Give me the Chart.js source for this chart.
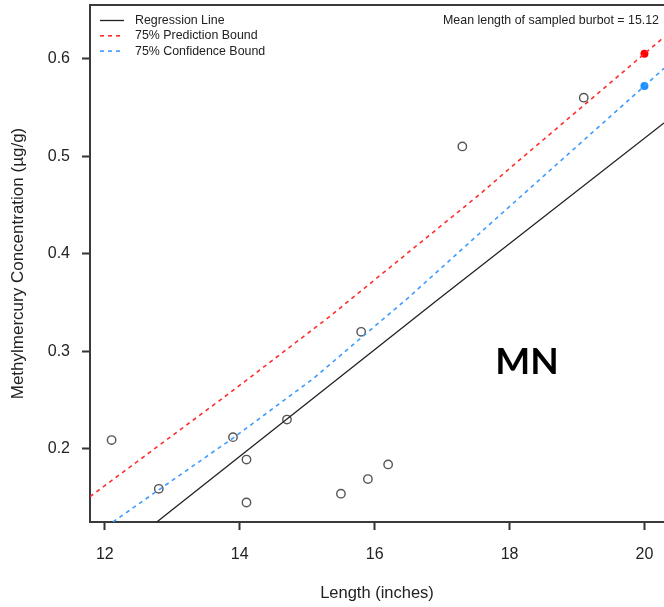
<!DOCTYPE html>
<html>
<head>
<meta charset="utf-8">
<script src="https://cdn.jsdelivr.net/npm/chart.js@4.4.1/dist/chart.umd.min.js"></script>
<style>
    html, body { margin: 0; padding: 0; background: #fff; }
</style>
</head>
<body>
<canvas id="mercuryChart" width="664" height="607"></canvas>
<script>
const FONT = '"Liberation Sans", Arial, sans-serif';

const xTicks = [12, 14, 16, 18, 20];
const yTicks = [0.2, 0.3, 0.4, 0.5, 0.6];

// sampled burbot (open circles)
const fishLength = [12.1, 12.8, 13.9, 14.1, 14.1, 14.7, 15.5, 15.8, 15.9, 16.2, 17.3, 19.1];
const fishMeHg = [0.209, 0.159, 0.212, 0.189, 0.145, 0.230, 0.154, 0.320, 0.169, 0.184, 0.510, 0.560];

// fitted lines
const regLength = [12.77, 16.94, 20.29];
const regMeHg = [0.125, 0.353, 0.534];

const predLength = [11.78, 13.71, 14.15, 15.34, 15.64, 17.56, 18.01, 20, 20.29];
const predMeHg = [0.151, 0.250, 0.273, 0.336, 0.353, 0.461, 0.488, 0.605, 0.622];

const confLength = [12.12, 12.8, 13.9, 15.09, 16.5, 17.67, 20, 20.29];
const confMeHg = [0.125, 0.158, 0.211, 0.272, 0.355, 0.428, 0.572, 0.590];

// bounds at 20 inches (filled dots)
const boundLength = 20;
const predAtLength = 0.605;
const confAtLength = 0.572;

const meanLength = 15.12;

const toPoints = (xs, ys) => xs.map((x, i) => ({ x: x, y: ys[i] }));

// legend, frame top and text labels drawn straight onto the canvas
const overlayPlugin = {
    id: 'overlay',
    beforeDraw(chart) {
        const c = chart.ctx;
        c.save();
        c.fillStyle = '#fff';
        c.fillRect(0, 0, chart.width, chart.height);
        c.restore();
    },
    afterDraw(chart) {
        const c = chart.ctx;
        const area = chart.chartArea;
        c.save();

        // top edge of the box
        c.strokeStyle = '#3a3a3a';
        c.lineWidth = 2;
        c.beginPath();
        c.moveTo(area.left - 1, area.top);
        c.lineTo(area.right, area.top);
        c.stroke();

        // legend
        c.font = '12.4px ' + FONT;
        c.textBaseline = 'middle';
        chart.data.datasets.slice(0, 3).forEach((ds, i) => {
            const y = area.top + 15.5 + i * 15.3;
            c.strokeStyle = ds.borderColor;
            c.lineWidth = ds.borderWidth;
            c.setLineDash(ds.borderDash || []);
            c.beginPath();
            c.moveTo(area.left + 10, y);
            c.lineTo(area.left + 34, y);
            c.stroke();
            c.setLineDash([]);
            c.fillStyle = '#222';
            c.textAlign = 'left';
            c.fillText(ds.label, area.left + 45, y);
        });

        c.textAlign = 'right';
        c.fillText('Mean length of sampled burbot = ' + meanLength.toFixed(2), area.right - 5, area.top + 16);

        // region tag
        const xs = chart.scales.x, ys = chart.scales.y;
        c.font = 'bold 37px Lato, "Open Sans", sans-serif';
        c.textAlign = 'center';
        c.fillStyle = '#000';
        c.fillText('MN', xs.getPixelForValue(18.26), ys.getPixelForValue(0.289));
        c.restore();
    }
};

new Chart(document.getElementById('mercuryChart'), {
    type: 'scatter',
    data: {
        datasets: [
            {
                label: 'Regression Line',
                data: toPoints(regLength, regMeHg),
                showLine: true,
                borderColor: '#222',
                borderWidth: 1.3,
                pointRadius: 0
            },
            {
                label: '75% Prediction Bound',
                data: toPoints(predLength, predMeHg),
                showLine: true,
                borderColor: '#ff2d2d',
                borderDash: [4, 4],
                borderWidth: 1.6,
                pointRadius: 0
            },
            {
                label: '75% Confidence Bound',
                data: toPoints(confLength, confMeHg),
                showLine: true,
                borderColor: '#3b9bff',
                borderDash: [4, 4],
                borderWidth: 1.6,
                pointRadius: 0
            },
            {
                label: 'Burbot',
                data: toPoints(fishLength, fishMeHg),
                pointStyle: 'circle',
                pointRadius: 4.2,
                pointBorderWidth: 1.4,
                pointBorderColor: '#555',
                pointBackgroundColor: 'rgba(0,0,0,0)'
            },
            {
                label: 'Prediction at 20',
                data: [{ x: boundLength, y: predAtLength }],
                pointRadius: 4,
                pointBorderWidth: 0,
                pointBackgroundColor: '#ff0000'
            },
            {
                label: 'Confidence at 20',
                data: [{ x: boundLength, y: confAtLength }],
                pointRadius: 4,
                pointBorderWidth: 0,
                pointBackgroundColor: '#1e90ff'
            }
        ]
    },
    options: {
        responsive: false,
        animation: false,
        devicePixelRatio: 1,
        layout: { autoPadding: false, padding: { top: 5, right: 0, bottom: 0, left: 0 } },
        plugins: {
            legend: { display: false },
            tooltip: { enabled: false }
        },
        scales: {
            x: {
                type: 'linear',
                min: 11.78,
                max: 20.29,
                afterBuildTicks: (s) => { s.ticks = xTicks.map(v => ({ value: v })); },
                afterFit: (s) => { s.height = 85; s.paddingLeft = 0; s.paddingRight = 0; },
                grid: { drawOnChartArea: false, tickLength: 8, tickWidth: 2, tickColor: '#333' },
                border: { display: true, color: '#3a3a3a', width: 2 },
                ticks: {
                    color: '#222',
                    font: { family: FONT, size: 16 },
                    padding: 15,
                    maxRotation: 0,
                    autoSkip: false,
                    callback: (v) => String(v)
                },
                title: {
                    display: true,
                    text: 'Length (inches)',
                    color: '#222',
                    font: { family: FONT, size: 16.5 },
                    padding: { top: 0, bottom: 4 }
                }
            },
            y: {
                type: 'linear',
                min: 0.125,
                max: 0.655,
                afterBuildTicks: (s) => { s.ticks = yTicks.map(v => ({ value: v })); },
                afterFit: (s) => { s.width = 90; s.paddingTop = 0; s.paddingBottom = 0; },
                grid: { drawOnChartArea: false, tickLength: 8, tickWidth: 2, tickColor: '#333' },
                border: { display: true, color: '#3a3a3a', width: 2 },
                ticks: {
                    color: '#222',
                    font: { family: FONT, size: 16 },
                    padding: 12,
                    autoSkip: false,
                    callback: (v) => v.toFixed(1)
                },
                title: {
                    display: true,
                    text: 'Methylmercury Concentration (µg/g)',
                    color: '#222',
                    font: { family: FONT, size: 17 },
                    padding: { top: 8, bottom: 0 }
                }
            }
        }
    },
    plugins: [overlayPlugin]
});
</script>
</body>
</html>
